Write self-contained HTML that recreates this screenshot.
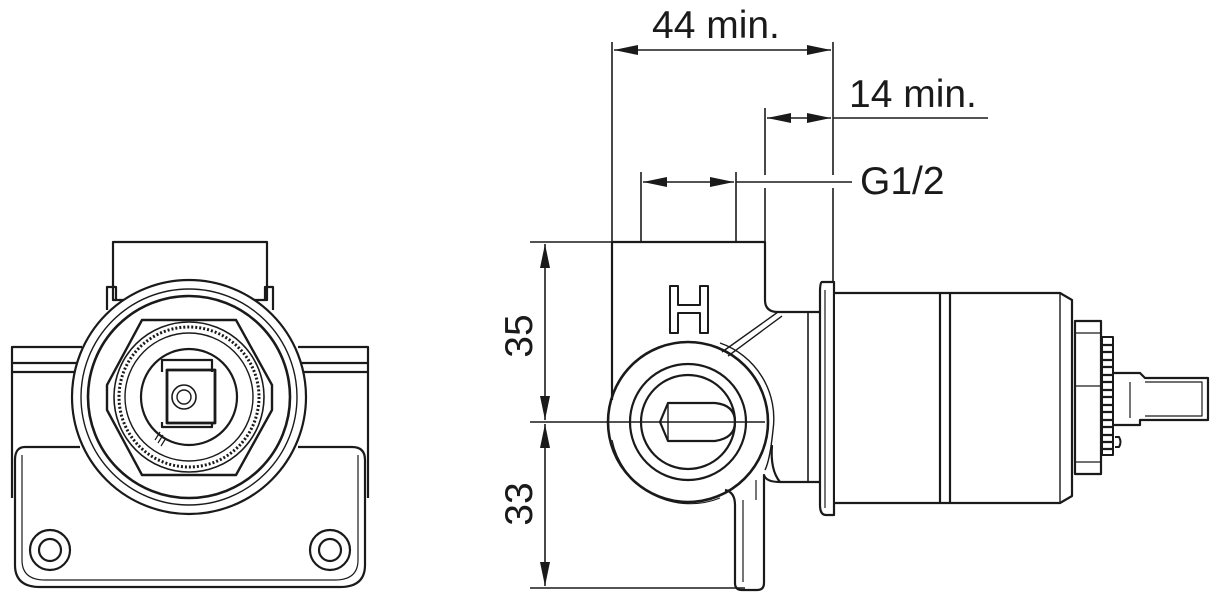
<!DOCTYPE html>
<html><head><meta charset="utf-8"><style>
html,body{margin:0;padding:0;background:#fff;}
svg{display:block;}
text{font-family:"Liberation Sans",Arial,sans-serif;fill:#1a1a1a;}
</style></head><body>
<svg width="1220" height="600" viewBox="0 0 1220 600" xmlns="http://www.w3.org/2000/svg">
<defs>
<marker id="a" viewBox="0 0 24 10" refX="24" refY="5" markerWidth="24" markerHeight="10" markerUnits="userSpaceOnUse" orient="auto-start-reverse"><path d="M0,0 L24,5 L0,10 Z" fill="#1a1a1a"/></marker>
</defs>
<g fill="none" stroke="#1a1a1a" stroke-width="2.2" stroke-linejoin="round">
<!-- LEFT VIEW -->
<rect x="113" y="242" width="154" height="58"/>
<path d="M107,310 V287 H116 V300 M273,310 V287 H265 V300"/>
<path d="M12,498 V347 H82 M12,363 H80 M12,372 H78" />
<path d="M368,498 V347 H298 M368,363 H300 M368,372 H302"/>
<path d="M80,447 H25 Q15,447 15,460 V565 Q15,587 40,587 H340 Q365,587 365,565 V460 Q365,447 352,447 H298"/>
<path d="M22,455 V560 Q22,580 45,580 H335 Q358,580 358,560 V455" stroke-width="1.2"/>
<circle cx="50" cy="550" r="20"/><circle cx="50" cy="550" r="11"/>
<circle cx="330" cy="550" r="20"/><circle cx="330" cy="550" r="11"/>
<circle cx="189" cy="397" r="117" fill="#fff"/>
<circle cx="189" cy="397" r="108" stroke-width="1.4"/>
<circle cx="189" cy="397" r="101" stroke-width="2.6"/>
<path d="M142,320 H236 L272,385 V410 L236,475 H142 L107,410 V385 Z" stroke-width="2.4"/>
<circle cx="189" cy="397" r="75" stroke-width="1.6"/>
<circle cx="189" cy="397" r="70" stroke-width="3" stroke-dasharray="2 2"/>
<circle cx="189" cy="397" r="64" stroke-width="1.4"/>
<circle cx="189" cy="397" r="48"/>
<path d="M162,372 V360 H212 V372 M162,422 V427 H212 V422"/>
<rect x="167" y="370" width="48" height="53" stroke-width="2.8"/>
<circle cx="184" cy="397" r="12" stroke-width="1.6"/>
<circle cx="184" cy="397" r="7" stroke-width="1.4"/>
<path d="M155,440 l5,-8 M158,443 l5,-8 M161,446 l5,-8" stroke-width="1.2"/>

<!-- RIGHT VIEW dimensions -->
<g stroke-width="1.6">
<line x1="612" y1="42" x2="612" y2="242"/>
<line x1="833" y1="42" x2="833" y2="175"/>
<line x1="833" y1="188" x2="833" y2="285"/>
<line x1="765" y1="108" x2="765" y2="175"/>
<line x1="765" y1="188" x2="765" y2="245"/>
<line x1="641" y1="172" x2="641" y2="242"/>
<line x1="736" y1="172" x2="736" y2="242"/>
<line x1="614" y1="50" x2="831" y2="50" marker-start="url(#a)" marker-end="url(#a)"/>
<line x1="800" y1="118" x2="767" y2="118" marker-end="url(#a)"/>
<line x1="800" y1="118" x2="831" y2="118" marker-end="url(#a)"/>
<line x1="833" y1="118" x2="988" y2="118"/>
<line x1="643" y1="182" x2="734" y2="182" marker-start="url(#a)" marker-end="url(#a)"/>
<line x1="736" y1="182" x2="852" y2="182"/>
<line x1="530" y1="242" x2="612" y2="242"/>
<line x1="530" y1="422" x2="765" y2="422"/>
<line x1="530" y1="588" x2="745" y2="588"/>
<line x1="545" y1="244" x2="545" y2="420" marker-start="url(#a)" marker-end="url(#a)"/>
<line x1="545" y1="424" x2="545" y2="586" marker-start="url(#a)" marker-end="url(#a)"/>
</g>
<!-- body -->
<path d="M612,400 V242 H765 V300 Q765,312 778,312 H820"/>
<path d="M778,312 L722,352 M782,316 L728,356" stroke-width="1.4"/>
<path d="M670,333 V286 H678 V305 H700 V286 H708 V333 H700 V313 H678 V333 Z" stroke-width="2"/>
<circle cx="688" cy="422" r="80" stroke-width="2.6"/>
<path d="M612,440 A80,80 0 0,0 720,498" stroke-width="1.2"/>
<path d="M720,343 A80,80 0 0,1 773,430 Q770,460 765,470" stroke-width="1.4"/>
<circle cx="688" cy="422" r="58"/>
<circle cx="688" cy="422" r="47"/>
<path d="M668,403 H715 Q735,405 735,422 Q735,438 715,441 H668 L660,422 Z"/>
<line x1="668" y1="403" x2="668" y2="441" stroke-width="1.4"/>
<path d="M725,490 Q735,492 735,505 V583 Q735,590 742,590 H757 Q764,590 764,583 V480"/>
<path d="M743,500 V582 M756,500 V480" stroke-width="1.2"/>
<path d="M764,480 V475 Q766,482 780,482 H820 M780,482 Q770,470 772,445" />
<path d="M808,312 V482" stroke-width="1.6"/>
<!-- flange -->
<path d="M822,282 Q820,282 820,292 V505 Q820,515 826,515 H834 V282 Z" fill="#fff"/>
<line x1="825" y1="290" x2="825" y2="508" stroke-width="1.2"/>
<!-- cylinder -->
<path d="M835,293 H1060 L1072,300 V496 L1060,503 H835" fill="#fff"/>
<line x1="1060" y1="293" x2="1060" y2="503" stroke-width="1.4"/>
<line x1="940" y1="294" x2="940" y2="502"/>
<line x1="950" y1="294" x2="950" y2="502"/>
<!-- cartridge -->
<rect x="1075" y="321" width="26" height="153"/>
<line x1="1075" y1="333" x2="1101" y2="333" stroke-width="1.2"/>
<line x1="1075" y1="386" x2="1101" y2="386" stroke-width="1.2"/>
<line x1="1075" y1="462" x2="1101" y2="462" stroke-width="1.2"/>
<rect x="1102" y="337" width="11" height="118" stroke-width="2"/>
<path d="M1102,345 H1113 M1102,352 H1113 M1102,360 H1113 M1102,367 H1113 M1102,375 H1113 M1102,382 H1113 M1102,390 H1113 M1102,397 H1113 M1102,405 H1113 M1102,412 H1113 M1102,420 H1113 M1102,427 H1113 M1102,435 H1113 M1102,442 H1113 M1102,449 H1113" stroke-width="2.2"/>
<path d="M1113,373 H1140 L1145,378 H1208 V420 H1140 V425 H1113"/>
<path d="M1145,382 H1202 V416 H1145" stroke-width="1.2"/>
<line x1="1130" y1="382" x2="1130" y2="418" stroke-width="1.2"/>
<path d="M1115,437 H1119 Q1122,442 1119,447 H1115" stroke-width="2"/>
</g>
<text x="652" y="38" font-size="39">44 min.</text>
<text x="849" y="107" font-size="39">14 min.</text>
<text x="860" y="194" font-size="39">G1/2</text>
<text transform="translate(532,336) rotate(-90)" text-anchor="middle" font-size="39">35</text>
<text transform="translate(532,504) rotate(-90)" text-anchor="middle" font-size="39">33</text>
</svg>
</body></html>
